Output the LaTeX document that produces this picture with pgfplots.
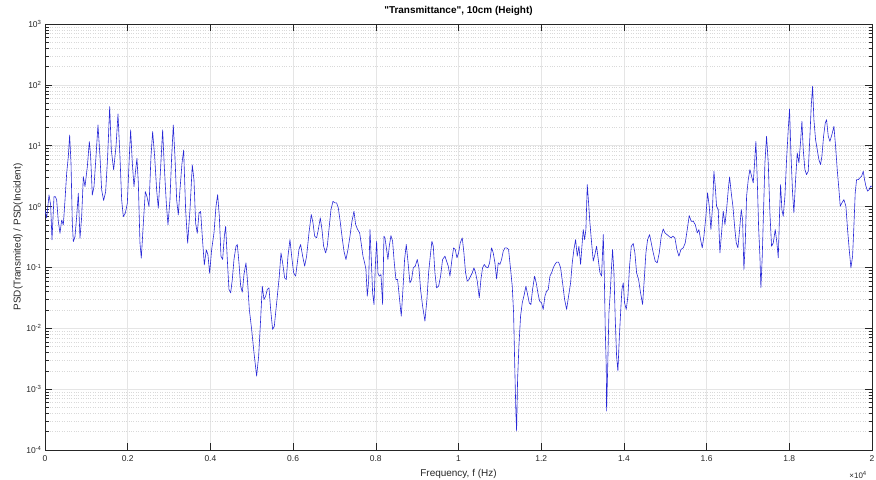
\documentclass[border=0pt]{standalone}
\usepackage{pgfplots}
\pgfplotsset{compat=1.18}
\usepackage{pgfplotstable}
\usepackage{fontspec}
\setmainfont{Liberation Sans}
\definecolor{axgray}{RGB}{38,38,38}
\definecolor{psdblue}{RGB}{40,40,215}

% f (Hz)   PSD ratio
\pgfplotstableread{
f y
0 0.88
40 0.65
97 1.55
137 1.06
169 0.284
218 1.46
250 1.46
282 1.29
322 0.57
363 0.365
403 0.60
443 0.50
484 1.29
524 3.52
564 6.62
596 15.0
629 5.15
661 0.53
685 0.266
725 0.32
766 0.685
806 1.66
846 0.30
887 0.685
927 3.11
967 2.13
1024 4.54
1072 11.7
1104 6.62
1144 1.55
1185 2.13
1233 6.62
1281 21.9
1330 6.62
1370 1.88
1418 1.26
1467 1.76
1515 6.62
1564 43.9
1604 8.5
1660 4.0
1717 9.7
1765 33.2
1813 6.62
1854 1.29
1894 0.685
1942 0.78
1991 1.13
2039 6.62
2071 18.2
2112 5.15
2152 2.13
2192 4.0
2224 6.2
2257 2.42
2297 0.25
2329 0.142
2378 0.53
2426 1.76
2466 1.46
2515 1.0
2563 6.62
2603 17.1
2652 6.62
2700 1.88
2740 0.94
2789 3.52
2845 18.2
2885 4.54
2934 1.13
2974 0.50
3022 1.29
3063 6.62
3103 21.9
3143 6.62
3184 1.29
3224 0.73
3264 1.88
3313 5.15
3353 8.5
3401 0.88
3450 0.25
3506 0.88
3562 4.83
3603 2.74
3643 0.53
3683 0.365
3724 0.78
3764 0.83
3804 0.32
3853 0.110
3901 0.195
3941 0.161
3982 0.080
4030 0.197
4087 0.37
4135 1.01
4175 1.57
4216 0.69
4256 0.153
4296 0.135
4337 0.326
4369 0.475
4409 0.135
4449 0.0434
4490 0.0382
4530 0.0633
4570 0.135
4619 0.223
4651 0.238
4691 0.119
4732 0.0492
4772 0.0392
4812 0.0764
4860 0.119
4901 0.0558
4941 0.0204
4998 0.00955
5054 0.00395
5118 0.00164
5167 0.00349
5215 0.014
5255 0.0492
5296 0.0297
5336 0.0337
5376 0.0434
5417 0.0462
5457 0.0204
5505 0.00955
5546 0.0108
5586 0.0204
5626 0.0382
5666 0.0718
5707 0.173
5747 0.119
5795 0.0674
5836 0.0633
5876 0.153
5924 0.287
5965 0.153
6013 0.0814
6061 0.0718
6102 0.119
6142 0.197
6182 0.238
6231 0.153
6279 0.105
6327 0.153
6384 0.37
6440 0.74
6481 0.54
6521 0.326
6569 0.306
6610 0.419
6658 0.652
6698 0.419
6738 0.223
6787 0.173
6827 0.223
6875 0.475
6916 0.893
6964 1.22
7012 1.15
7053 1.15
7093 0.95
7133 0.61
7182 0.326
7230 0.185
7278 0.135
7327 0.197
7375 0.326
7424 0.574
7472 0.838
7512 0.506
7561 0.419
7609 0.37
7657 0.223
7690 0.153
7730 0.119
7762 0.0924
7794 0.0337
7827 0.0594
7859 0.419
7891 0.135
7923 0.0382
7956 0.0246
7988 0.105
8020 0.27
8052 0.0814
8084 0.0718
8125 0.0764
8165 0.0246
8197 0.326
8221 0.306
8261 0.197
8293 0.135
8326 0.223
8366 0.334
8406 0.27
8447 0.119
8487 0.0633
8527 0.0633
8567 0.0337
8616 0.0158
8656 0.0434
8696 0.135
8737 0.238
8777 0.127
8825 0.0558
8866 0.0633
8906 0.0984
8954 0.105
9003 0.135
9043 0.0984
9083 0.0434
9132 0.0231
9188 0.0131
9236 0.0297
9277 0.0814
9317 0.153
9357 0.27
9390 0.223
9430 0.0814
9470 0.0462
9519 0.0492
9567 0.0718
9615 0.135
9672 0.153
9712 0.127
9752 0.105
9793 0.0718
9841 0.135
9881 0.21
9922 0.197
9962 0.144
10002 0.173
10042 0.253
10091 0.306
10131 0.173
10171 0.0814
10212 0.0594
10252 0.0633
10292 0.0718
10333 0.0814
10373 0.0984
10413 0.0814
10454 0.0594
10502 0.0316
10542 0.0633
10582 0.0984
10623 0.112
10663 0.102
10711 0.0984
10752 0.119
10800 0.21
10840 0.173
10881 0.119
10921 0.0649
10961 0.119
11002 0.112
11042 0.135
11082 0.185
11123 0.21
11163 0.21
11211 0.197
11260 0.0924
11300 0.0492
11332 0.0179
11364 0.00186
11388 0.00041
11405 0.000205
11429 0.00145
11461 0.0051
11501 0.0158
11542 0.0262
11590 0.0359
11630 0.0492
11671 0.0359
11711 0.0262
11751 0.0246
11791 0.0434
11840 0.0718
11880 0.0558
11920 0.0382
11961 0.0279
12009 0.0262
12049 0.0204
12090 0.0337
12130 0.0407
12170 0.0434
12211 0.0718
12251 0.0814
12291 0.0984
12332 0.112
12372 0.122
12421 0.122
12469 0.0984
12517 0.0558
12566 0.0297
12614 0.0204
12662 0.0337
12711 0.0558
12751 0.119
12791 0.197
12832 0.287
12872 0.153
12912 0.223
12953 0.112
12985 0.223
13017 0.419
13049 0.287
13081 0.419
13114 2.3
13146 1.15
13178 0.54
13219 0.253
13259 0.127
13299 0.163
13339 0.223
13380 0.135
13420 0.0814
13460 0.0718
13501 0.347
13525 0.0814
13549 0.00955
13573 0.00239
13581 0.000436
13605 0.00186
13638 0.0179
13670 0.0382
13702 0.105
13726 0.197
13759 0.0814
13791 0.0139
13823 0.00349
13855 0.00198
13887 0.00655
13920 0.0179
13952 0.0434
13984 0.0558
14016 0.0262
14057 0.0204
14097 0.0337
14137 0.105
14178 0.223
14226 0.247
14266 0.173
14307 0.0814
14355 0.0633
14403 0.0382
14452 0.0246
14492 0.0633
14532 0.173
14573 0.287
14621 0.347
14661 0.253
14710 0.173
14758 0.127
14806 0.119
14855 0.173
14903 0.326
14951 0.43
14992 0.37
15040 0.347
15088 0.326
15137 0.306
15185 0.326
15233 0.306
15282 0.197
15330 0.153
15379 0.197
15435 0.21
15483 0.253
15532 0.419
15580 0.711
15628 0.574
15677 0.574
15725 0.506
15774 0.37
15814 0.419
15854 0.287
15894 0.21
15935 0.326
15983 0.694
16023 1.68
16064 1.01
16104 0.419
16144 1.01
16177 3.8
16209 2.16
16241 1.01
16281 0.893
16322 0.173
16362 0.37
16402 0.838
16443 0.506
16483 0.893
16524 1.9
16556 3.07
16596 1.68
16636 1.01
16677 0.475
16717 0.253
16757 0.21
16798 0.419
16838 0.893
16870 0.612
16902 0.0924
16935 0.253
16967 1.48
17007 2.77
17047 4.05
17088 3.15
17128 2.45
17160 5.21
17192 11.8
17225 2.77
17257 0.475
17289 0.153
17313 0.0462
17346 0.153
17378 0.893
17410 5.21
17450 14.3
17491 5.21
17531 0.787
17571 0.223
17612 0.253
17660 0.419
17700 0.253
17733 0.144
17765 0.787
17789 2.3
17821 0.893
17853 0.694
17894 1.48
17934 5.91
17974 18.4
18006 40.2
18039 7.6
18079 1.68
18111 0.787
18152 2.77
18192 7.6
18232 5.21
18273 11.8
18305 25.2
18337 8.63
18377 4.05
18418 3.35
18458 3.8
18498 14.3
18530 44.4
18563 94.6
18595 26.8
18635 12.6
18675 8.63
18716 5.91
18756 4.9
18788 6.7
18829 14.3
18869 23.6
18901 26.8
18942 14.3
18982 11.8
19030 15.2
19079 20.8
19119 9.8
19159 4.05
19200 1.9
19232 1.01
19272 1.15
19320 1.3
19369 1.01
19409 0.419
19449 0.197
19490 0.0984
19530 0.153
19562 0.475
19594 1.68
19627 2.77
19667 2.77
19707 2.96
19748 3.15
19788 3.8
19820 2.77
19853 2.16
19893 1.79
19933 1.9
19965 2.16
20000 2.16
}\psdtable

\begin{document}
\begin{tikzpicture}
\begin{axis}[
    scale only axis,
    width=827bp, height=426bp,
    ymode=log,
    xmin=0, xmax=20000,
    ymin=1e-4, ymax=1e3,
    /pgf/number format/assume math mode=true,
    scaled x ticks=false,
    xtick={0,2000,4000,6000,8000,10000,12000,14000,16000,18000,20000},
    xticklabels={0,0.2,0.4,0.6,0.8,1,1.2,1.4,1.6,1.8,2},
    ytick={1e-4,1e-3,1e-2,1e-1,1,10,100,1000},
    yticklabels={10\textsuperscript{-4},10\textsuperscript{-3},10\textsuperscript{-2},10\textsuperscript{-1},10\textsuperscript{0},10\textsuperscript{1},10\textsuperscript{2},10\textsuperscript{3}},
    xticklabel style={font=\fontsize{8.5}{10}\selectfont, text=axgray, yshift=-2bp},
    yticklabel style={font=\fontsize{8.5}{10}\selectfont, text=axgray},
    tick align=inside,
    major tick length=7bp,
    minor tick length=3.5bp,
    every tick/.style={axgray, line width=0.5pt},
    axis line style={axgray, line width=0.6pt},
    grid=both,
    xminorgrids=false,
    major grid style={gray!20, line width=0.5pt},
    minor grid style={gray!30, dotted, line width=0.4pt},
    title={\textquotedbl Transmittance\textquotedbl, 10cm (Height)},
    title style={font=\bfseries\fontsize{10}{12}\selectfont, text=black, yshift=-1bp},
    xlabel={Frequency, f (Hz)},
    ylabel={PSD(Transmited) / PSD(Incident)},
    xlabel style={font=\fontsize{10}{12}\selectfont, text=axgray, yshift=-1bp},
    ylabel style={font=\fontsize{10}{12}\selectfont, text=axgray,
        at={(axis description cs:-0.0327,0.5)}, anchor=center},
    clip mode=individual,
]
\addplot[color=psdblue, line width=0.6pt, line join=round] table[x=f, y=y] {\psdtable};
\node[anchor=north east, inner sep=0pt, text=axgray, font=\fontsize{8}{9}\selectfont]
    at ([xshift=-5bp, yshift=-21bp]rel axis cs:1,0) {×10\textsuperscript{4}};
\coordinate (bl) at (rel axis cs:0,0);
\coordinate (tr) at (rel axis cs:1,1);
\end{axis}
\pgfresetboundingbox
\path[use as bounding box] ([xshift=-45bp, yshift=-30bp]bl) rectangle ([xshift=4bp, yshift=24bp]tr);
\end{tikzpicture}
\end{document}
